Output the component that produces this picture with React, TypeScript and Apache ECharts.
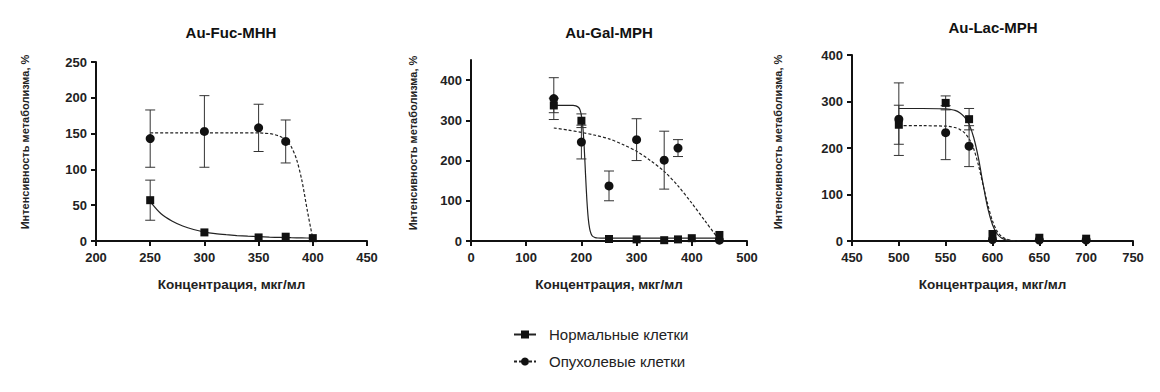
import React, { useEffect, useRef } from "react";
import * as echarts from "echarts";

// ---------- Data ----------
const titles = ["Au-Fuc-MHH", "Au-Gal-MPH", "Au-Lac-MPH"];
const yTitle = "Интенсивность метаболизма, %";
const xTitle = "Концентрация, мкг/мл";
const legendNames = ["Нормальные клетки", "Опухолевые клетки"];

// Panel 1: Au-Fuc-MHH
const fucNormalX = [250, 300, 350, 375, 400];
const fucNormal = [57, 12, 5, 6, 4];
const fucNormalErr = [28, 0, 0, 0, 0];
const fucTumorX = [250, 300, 350, 375];
const fucTumor = [143, 153, 158, 139];
const fucTumorErr = [40, 50, 33, 30];
const fucNormalFitX = [250, 260, 270, 280, 290, 300, 310, 320, 330, 340, 350, 360, 370, 380, 390, 400];
const fucNormalFitY = [55, 38, 28, 21, 16, 12.5, 10.3, 8.8, 7.6, 6.7, 6, 5.4, 5, 4.6, 4.3, 4];
const fucTumorFitX = [250, 275, 300, 325, 350, 355, 360, 365, 370, 375, 380, 385, 390, 395, 400];
const fucTumorFitY = [151, 151, 151, 151, 151, 150.5, 150, 148.5, 146, 141, 132, 114, 84, 42, 3];

// Panel 2: Au-Gal-MPH
const galNormalX = [150, 200, 250, 300, 350, 375, 400, 450];
const galNormal = [337, 299, 5, 4, 2, 4, 7, 15];
const galNormalErr = [18, 17, 0, 0, 0, 0, 0, 0];
const galTumorX = [150, 200, 250, 300, 350, 375, 450];
const galTumor = [354, 246, 137, 252, 201, 231, 2];
const galTumorErr = [52, 42, 37, 52, 72, 21, 0];
const galNormalFitX = [150, 170, 185, 190, 195, 197.5, 200, 202.5, 205, 207.5, 210, 212.5, 215, 217.5, 220, 225, 230, 240, 260, 300, 350, 400, 450];
const galNormalFitY = [337, 337, 337, 336, 332, 326, 312, 285, 235, 165, 100, 55, 30, 18, 12, 8.5, 7.5, 7, 7, 7, 7, 7, 7];
const galTumorFitX = [150, 175, 200, 225, 250, 275, 300, 325, 350, 375, 400, 425, 450];
const galTumorFitY = [281, 276, 270, 263, 254, 240, 223, 200, 173, 137, 94, 48, 2];

// Panel 3: Au-Lac-MPH
const lacX = [500, 550, 575, 600, 650, 700];
const lacNormal = [250, 297, 262, 15, 7, 5];
const lacNormalErr = [42, 15, 23, 0, 0, 0];
const lacTumor = [262, 233, 204, 3, 2, 2];
const lacTumorErr = [78, 58, 44, 0, 0, 0];
const lacFitX = [500, 525, 550, 555, 560, 565, 570, 575, 580, 585, 590, 595, 600, 605, 610, 615, 620, 625, 630];
const lacNormalFitY = [285, 285, 284, 283, 281, 276, 267, 251, 222, 178, 122, 70, 35, 15, 6, 2, 1, 0, 0];
const lacTumorFitY = [248, 248, 247, 246, 244, 240, 233, 220, 198, 163, 120, 78, 43, 21, 9, 4, 1, 0, 0];

// Axis ranges
const xRanges = [
  { min: 200, max: 450, interval: 50 },
  { min: 0, max: 500, interval: 100 },
  { min: 450, max: 750, interval: 50 },
];
const yRanges = [
  { min: 0, max: 250, interval: 50 },
  { min: 0, max: 450, interval: 100 },
  { min: 0, max: 400, interval: 100 },
];
const galYTicks = [0, 100, 200, 300, 400];

// ---------- Helpers ----------
const FONT = "'Liberation Sans', Arial, sans-serif";
const INK = "#111";

function pairs(xs: number[], ys: number[]) {
  return xs.map((x, i) => [x, ys[i]]);
}

function fitSeries(i: number, name: string, xs: number[], ys: number[], dashed: boolean, symbol: string) {
  return {
    type: "line",
    name,
    xAxisIndex: i,
    yAxisIndex: i,
    data: pairs(xs, ys),
    smooth: 0.3,
    showSymbol: false,
    symbol,
    symbolSize: 8,
    color: INK,
    itemStyle: { color: INK, opacity: 1 },
    lineStyle: { color: "#222", width: 1.2, type: dashed ? [3, 2] : "solid" },
    z: 3,
    silent: true,
  };
}

function pointSeries(i: number, name: string, xs: number[], ys: number[], symbol: string, size: number) {
  return {
    type: "scatter",
    name,
    xAxisIndex: i,
    yAxisIndex: i,
    data: pairs(xs, ys),
    symbol,
    symbolSize: size,
    itemStyle: { color: INK, opacity: 1 },
    z: 5,
    silent: true,
  };
}

function errorSeries(i: number, xs: number[], ys: number[], errs: number[]) {
  const data = xs
    .map((x, k) => [x, ys[k] - errs[k], ys[k] + errs[k]])
    .filter((d) => d[2] - d[1] > 0);
  return {
    type: "custom",
    xAxisIndex: i,
    yAxisIndex: i,
    silent: true,
    z: 4,
    encode: { x: 0, y: [1, 2] },
    data,
    renderItem: (_params: any, api: any) => {
      const x = api.value(0);
      const lo = api.coord([x, api.value(1)]);
      const hi = api.coord([x, api.value(2)]);
      const hw = 5;
      const style = { stroke: "#333", lineWidth: 1, fill: "none" };
      return {
        type: "group",
        children: [
          { type: "line", shape: { x1: lo[0], y1: lo[1], x2: hi[0], y2: hi[1] }, style },
          { type: "line", shape: { x1: lo[0] - hw, y1: lo[1], x2: lo[0] + hw, y2: lo[1] }, style },
          { type: "line", shape: { x1: hi[0] - hw, y1: hi[1], x2: hi[0] + hw, y2: hi[1] }, style },
        ],
      };
    },
  };
}

const grids = [
  { left: 96, top: 62, width: 271, height: 179 },
  { left: 471, top: 60, width: 276, height: 181 },
  { left: 852, top: 55, width: 281, height: 186 },
];

const titlePos = [
  { x: 231, y: 32 },
  { x: 609, y: 32 },
  { x: 993, y: 27 },
];
const yTitlePos = [
  { x: 25, y: 142 },
  { x: 413, y: 143 },
  { x: 778, y: 142 },
];

export default function App() {
  const ref = useRef<HTMLDivElement>(null);

  useEffect(() => {
    if (!ref.current) return;
    const chart = echarts.init(ref.current, undefined, { renderer: "svg" });

    const axisLine = { onZero: false, lineStyle: { color: INK, width: 2 } };
    const axisTick = { show: true, length: 5, lineStyle: { color: INK, width: 2 } };
    const axisLabel = { fontWeight: "bold", fontSize: 13, color: "#222", fontFamily: FONT };

    const xAxes = xRanges.map((r, i) => ({
      type: "value",
      gridIndex: i,
      min: r.min,
      max: r.max,
      interval: r.interval,
      axisLine,
      axisTick,
      axisLabel: { ...axisLabel, margin: 10 },
      splitLine: { show: false },
      name: xTitle,
      nameLocation: "middle",
      nameGap: 36,
      nameTextStyle: { fontWeight: "bold", fontSize: 13.5, color: "#222", fontFamily: FONT },
    }));

    const yAxes = yRanges.map((r, i) => {
      const base: any = {
        type: "value",
        gridIndex: i,
        min: r.min,
        max: r.max,
        interval: r.interval,
        axisLine,
        axisTick: { ...axisTick },
        axisLabel: { ...axisLabel, margin: 9 },
        splitLine: { show: false },
      };
      if (i === 1) {
        base.axisTick.customValues = galYTicks;
        base.axisLabel.customValues = galYTicks;
      }
      return base;
    });

    const series: any[] = [
      fitSeries(0, legendNames[0], fucNormalFitX, fucNormalFitY, false, "rect"),
      fitSeries(0, legendNames[1], fucTumorFitX, fucTumorFitY, true, "circle"),
      errorSeries(0, fucNormalX, fucNormal, fucNormalErr),
      errorSeries(0, fucTumorX, fucTumor, fucTumorErr),
      pointSeries(0, legendNames[0], fucNormalX, fucNormal, "rect", 8),
      pointSeries(0, legendNames[1], fucTumorX, fucTumor, "circle", 9),

      fitSeries(1, legendNames[0], galNormalFitX, galNormalFitY, false, "rect"),
      fitSeries(1, legendNames[1], galTumorFitX, galTumorFitY, true, "circle"),
      errorSeries(1, galNormalX, galNormal, galNormalErr),
      errorSeries(1, galTumorX, galTumor, galTumorErr),
      pointSeries(1, legendNames[0], galNormalX, galNormal, "rect", 8),
      pointSeries(1, legendNames[1], galTumorX, galTumor, "circle", 9),

      fitSeries(2, legendNames[0], lacFitX, lacNormalFitY, false, "rect"),
      fitSeries(2, legendNames[1], lacFitX, lacTumorFitY, true, "circle"),
      errorSeries(2, lacX, lacNormal, lacNormalErr),
      errorSeries(2, lacX, lacTumor, lacTumorErr),
      pointSeries(2, legendNames[0], lacX, lacNormal, "rect", 8),
      pointSeries(2, legendNames[1], lacX, lacTumor, "circle", 9),
    ];

    const graphic: any[] = [];
    titles.forEach((t, i) => {
      graphic.push({
        type: "text",
        x: titlePos[i].x,
        y: titlePos[i].y,
        style: {
          text: t,
          fill: "#111",
          font: `bold 15px ${FONT}`,
          align: "center",
          verticalAlign: "middle",
          textAlign: "center",
          textVerticalAlign: "middle",
        },
      });
      graphic.push({
        type: "text",
        x: yTitlePos[i].x,
        y: yTitlePos[i].y,
        rotation: Math.PI / 2,
        style: {
          text: yTitle,
          fill: "#222",
          font: `bold 11px ${FONT}`,
          align: "center",
          verticalAlign: "middle",
          textAlign: "center",
          textVerticalAlign: "middle",
        },
      });
    });

    chart.setOption({
      animation: false,
      textStyle: { fontFamily: FONT },
      grid: grids,
      xAxis: xAxes,
      yAxis: yAxes,
      legend: {
        data: legendNames,
        orient: "vertical",
        left: 508,
        top: 322,
        itemWidth: 22,
        itemHeight: 10,
        itemGap: 12,
        textStyle: { fontSize: 15, color: "#222", fontFamily: FONT, padding: [0, 0, 0, 8] },
        selectedMode: false,
      },
      graphic,
      series,
    });

    return () => chart.dispose();
  }, []);

  return (
    <div
      ref={ref}
      style={{ position: "fixed", left: 0, top: 0, width: 1160, height: 392, background: "#fff" }}
    />
  );
}
